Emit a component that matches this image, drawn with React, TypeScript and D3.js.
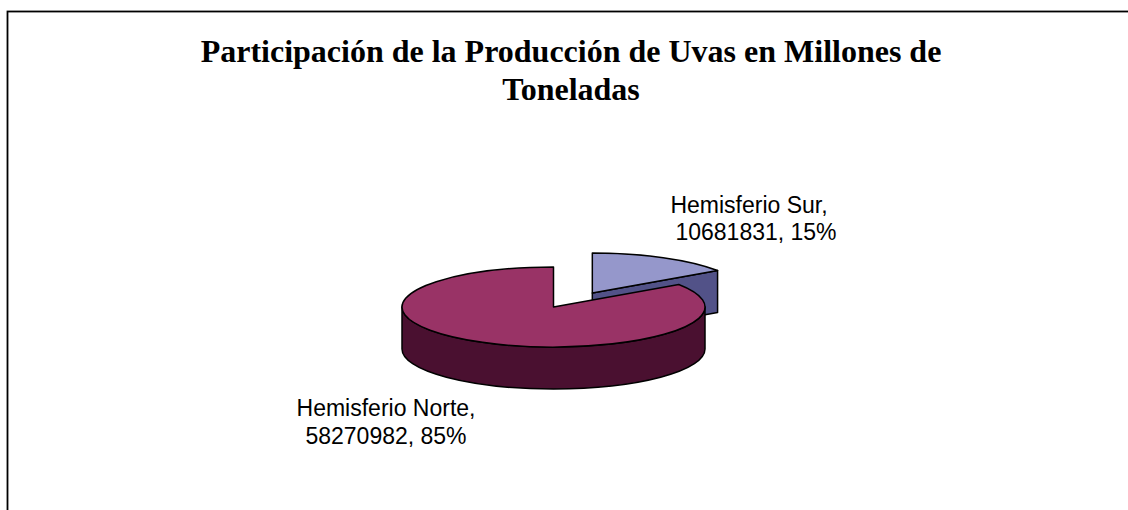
import React from "react";
import * as d3 from "d3";

const categories = ["Hemisferio Sur", "Hemisferio Norte"];
const values = [10681831, 58270982];
const percentLabels = ["15%", "85%"];
const titleLines = ["Participación de la Producción de Uvas en Millones de", "Toneladas"];

const topColors = ["#9597cb", "#993366"];
const sideColors = ["#525288", "#4a1030"];

const W = 1128;
const H = 510;
const cx = 553.5;
const cy = 307;
const rx = 151.5;
const ry = 40;
const depth = 42;
const explodeDist = [83, 0];
const explodeTilt = 0.19;

function pt(x0: number, y0: number, a: number): [number, number] {
  return [x0 + rx * Math.sin(a), y0 - ry * Math.cos(a)];
}

export default function App() {
  const pie = d3
    .pie<number>()
    .sort(null)
    .value((d) => d)
    .startAngle(0)
    .endAngle(2 * Math.PI);
  const arcs = pie(values);

  const slices = arcs.map((a, i) => {
    const mid = (a.startAngle + a.endAngle) / 2;
    const ox = cx + explodeDist[i] * Math.sin(mid);
    const oy = cy - explodeDist[i] * Math.cos(mid) * explodeTilt;
    const p0 = pt(ox, oy, a.startAngle);
    const p1 = pt(ox, oy, a.endAngle);
    const large = a.endAngle - a.startAngle > Math.PI ? 1 : 0;
    const top = `M${ox},${oy}L${p0[0]},${p0[1]}A${rx},${ry} 0 ${large} 1 ${p1[0]},${p1[1]}Z`;
    const faces: string[] = [];
    const s = Math.max(a.startAngle, Math.PI / 2);
    const e = Math.min(a.endAngle, (3 * Math.PI) / 2);
    if (e > s) {
      const ps = pt(ox, oy, s);
      const pe = pt(ox, oy, e);
      const lg = e - s > Math.PI ? 1 : 0;
      faces.push(
        `M${ps[0]},${ps[1]}A${rx},${ry} 0 ${lg} 1 ${pe[0]},${pe[1]}L${pe[0]},${pe[1] + depth}A${rx},${ry} 0 ${lg} 0 ${ps[0]},${ps[1] + depth}Z`
      );
    }
    if (Math.sin(a.endAngle) > 1e-6) {
      faces.push(
        `M${ox},${oy}L${p1[0]},${p1[1]}L${p1[0]},${p1[1] + depth}L${ox},${oy + depth}Z`
      );
    }
    if (Math.sin(a.startAngle) < -1e-6) {
      faces.push(
        `M${ox},${oy}L${p0[0]},${p0[1]}L${p0[0]},${p0[1] + depth}L${ox},${oy + depth}Z`
      );
    }
    return { i, top, faces, oy };
  });

  const order = [...slices].sort((a, b) => a.oy - b.oy);

  const fmt = (v: number) => String(v);

  return (
    <div style={{ position: "absolute", left: 0, top: 0 }}>
      <svg width={W} height={H} style={{ display: "block" }}>
        <rect x={0} y={0} width={W} height={H} fill="#ffffff" />
        <rect x={7.5} y={11.5} width={W + 20} height={H + 20} fill="none" stroke="#000" strokeWidth={1.8} />
        <g fontFamily="'Liberation Serif', 'Times New Roman', serif" fontWeight="bold" fontSize={32} textAnchor="middle" fill="#000">
          <text x={571} y={62}>{titleLines[0]}</text>
          <text x={571} y={100}>{titleLines[1]}</text>
        </g>
        {order.map((sl) => (
          <g key={sl.i} stroke="#000" strokeWidth={1.5} strokeLinejoin="round">
            {sl.faces.map((f, k) => (
              <path key={k} d={f} fill={sideColors[sl.i]} />
            ))}
            <path d={sl.top} fill={topColors[sl.i]} />
          </g>
        ))}
        <g fontFamily="'Liberation Sans', Arial, sans-serif" fontSize={23} textAnchor="middle" fill="#000">
          <text x={749} y={213}>{categories[0]},</text>
          <text x={756} y={240}>{`${fmt(values[0])}, ${percentLabels[0]}`}</text>
          <text x={386} y={416}>{categories[1]},</text>
          <text x={386} y={444}>{`${fmt(values[1])}, ${percentLabels[1]}`}</text>
        </g>
      </svg>
    </div>
  );
}
